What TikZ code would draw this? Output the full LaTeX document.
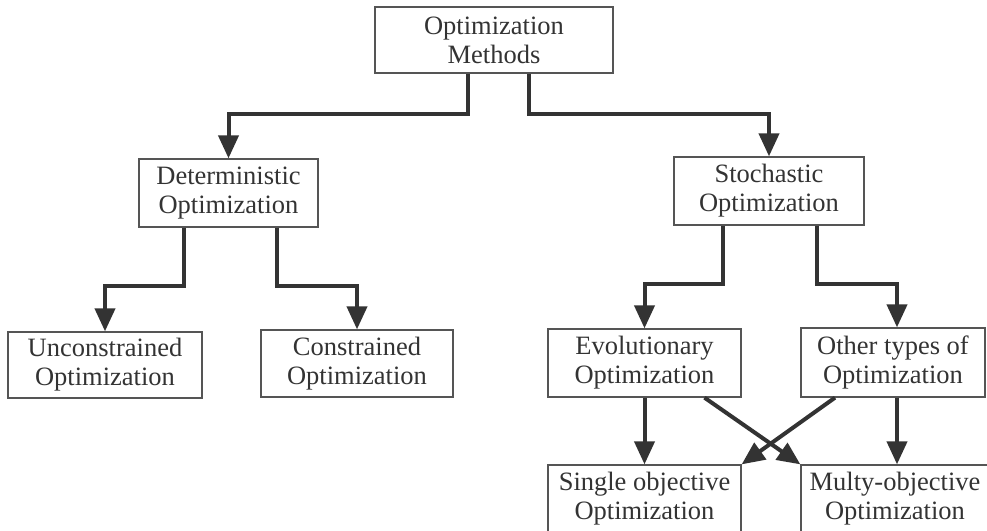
\documentclass[tikz,border=0pt]{standalone}
\usepackage{fontspec}
\setmainfont{Liberation Serif}
\usetikzlibrary{arrows.meta}
\definecolor{inkc}{HTML}{333333}
\definecolor{framec}{HTML}{555555}
\begin{document}
\begin{tikzpicture}[x=1pt,y=-1pt,
  box/.style={draw=framec,line width=1.3pt,rectangle,inner sep=0pt,
    align=center,text=inkc,font=\fontsize{26.5}{29}\selectfont},
  arr/.style={draw=inkc,line width=4pt,-{Triangle[length=23pt,width=20pt]}}]
\useasboundingbox (0,0) rectangle (987,530);
% nodes of the tree
\node[box,minimum width=238pt,minimum height=66pt] (meth) at (494,40) {Optimization\\Methods};
\node[box,minimum width=179pt,minimum height=68pt] (det) at (228.5,193) {Deterministic\\Optimization};
\node[box,minimum width=190pt,minimum height=68pt] (sto) at (769,191) {Stochastic\\Optimization};
\node[box,minimum width=194pt,minimum height=66pt] (unc) at (105,365) {Unconstrained\\Optimization};
\node[box,minimum width=192pt,minimum height=67pt] (con) at (357,363.5) {Constrained\\Optimization};
\node[box,minimum width=193pt,minimum height=68pt] (evo) at (644.5,363) {Evolutionary\\Optimization};
\node[box,minimum width=184pt,minimum height=69pt] (oth) at (893,362.5) {Other types of\\Optimization};
\node[box,minimum width=193pt,minimum height=68pt] (sing) at (644.5,499) {Single objective\\Optimization};
\node[box,minimum width=188pt,minimum height=68pt] (mul) at (895,499) {Multy-objective\\Optimization};
% elbow connectors
\draw[arr] ([xshift=-26pt]meth.south) -- ++(0,40) -| (det.north);
\draw[arr] ([xshift=35pt]meth.south) -- ++(0,40) -| (sto.north);
\draw[arr] ([xshift=-44.5pt]det.south) -- ++(0,58) -| (unc.north);
\draw[arr] ([xshift=48.5pt]det.south) -- ++(0,58) -| (con.north);
\draw[arr] ([xshift=-46pt]sto.south) -- ++(0,58) -| (evo.north);
\draw[arr] ([xshift=48pt]sto.south) -- ++(0,58) -| ([xshift=4pt]oth.north);
% straight and crossing connectors
\draw[arr] (evo.south) -- (sing.north);
\draw[arr] ([xshift=4pt]oth.south) -- ([xshift=2pt]mul.north);
\draw[arr] ([xshift=60pt]evo.south) -- (mul.north west);
\draw[arr] ([xshift=-58pt]oth.south) -- (sing.north east);
\end{tikzpicture}
\end{document}
